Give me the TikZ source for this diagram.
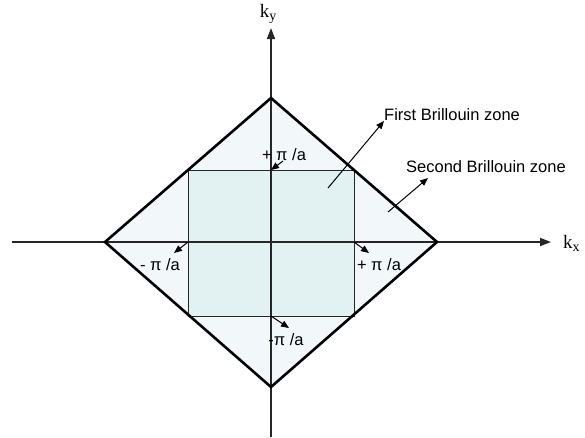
\documentclass[tikz,border=0pt]{standalone}
\usepackage{fontspec}
\setmainfont{Liberation Sans}
\newfontfamily\kfont{Liberation Serif}
\usetikzlibrary{arrows.meta}
\definecolor{outerfill}{HTML}{F2F8F9}
\definecolor{innerfill}{HTML}{E2F1F2}
\definecolor{axisgray}{HTML}{262626}
\begin{document}
\begin{tikzpicture}[x=1pt,y=-1pt,
  axisline/.style={line width=1.6pt, draw=axisgray, -{Triangle[length=11pt,width=8pt]}},
  zoneline/.style={line width=2.6pt, draw=black, line join=miter},
  squareline/.style={line width=1pt, draw=axisgray},
  pointer/.style={line width=1pt, draw=black, -{Triangle[length=8pt,width=6.5pt]}},
  lbl/.style={inner sep=0pt, font=\fontsize{16.5}{19}\selectfont},
  klbl/.style={inner sep=0pt, font=\kfont\fontsize{19}{22}\selectfont}
]
\useasboundingbox (0,0) rectangle (585,437);
% zone corners
\coordinate (DL) at (105,242);
\coordinate (DT) at (271,98);
\coordinate (DR) at (437,242);
\coordinate (DB) at (271,387);
\coordinate (SA) at (188,170);
\coordinate (SB) at (354,316);
\coordinate (SL) at (188,242);
\coordinate (SR) at (354,242);
\coordinate (ST) at (271,170);
\coordinate (SBm) at (271,316);
% fills
\fill[outerfill] (DL) -- (DT) -- (DR) -- (DB) -- cycle;
\fill[innerfill] (SA) rectangle (SB);
\draw[squareline] (SA) rectangle (SB);
% axes
\coordinate (XA) at (12,242);
\coordinate (XB) at (551,242);
\coordinate (YA) at (271,437);
\coordinate (YB) at (271,28);
\draw[axisline] (XA) -- (XB);
\draw[axisline] (YA) -- (YB);
\node[klbl, anchor=west] (kx) at (563,243) {k\raisebox{-3pt}{\fontsize{14}{14}\selectfont x}};
\node[klbl] (ky) at (268,14) {k\raisebox{-3pt}{\fontsize{14}{14}\selectfont y}};
% zone boundary
\draw[zoneline] (DL) -- (DT) -- (DR) -- (DB) -- cycle;
% labels
\node[lbl] (ptop) at (284,155) {+ π /a};
\node[lbl] (pleft) at (160,265) {- π /a};
\node[lbl] (pright) at (379,265) {+ π /a};
\node[lbl] (pbot) at (286,340) {-π /a};
\node[lbl, anchor=west] (first) at (384,115) {First Brillouin zone};
\node[lbl, anchor=west] (second) at (406,167) {Second Brillouin zone};
% pointers
\coordinate (tT) at (283,161);
\coordinate (tL) at (174,253);
\coordinate (tR) at (369,253);
\coordinate (tB) at (289,328);
\coordinate (f0) at (328,188);
\coordinate (f1) at (384,121);
\coordinate (s0) at (388,212);
\coordinate (s1) at (428,178);
\draw[pointer] (tT) -- (ST);
\draw[pointer] (SL) -- (tL);
\draw[pointer] (SR) -- (tR);
\draw[pointer] (SBm) -- (tB);
\draw[pointer] (f0) -- (f1);
\draw[pointer] (s0) -- (s1);
\end{tikzpicture}
\end{document}
